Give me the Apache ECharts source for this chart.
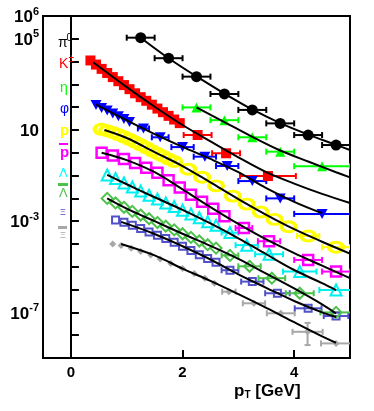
<!DOCTYPE html>
<html><head><meta charset="utf-8">
<script src="https://cdn.jsdelivr.net/npm/echarts@6/dist/echarts.min.js"></script>
<style>html,body{margin:0;padding:0;background:#fff}#c{width:374px;height:411px}</style>
</head><body><div id="c"></div><script>
// ---- data (pT in GeV, yields) ----
const pi0_pt   = [1.25, 1.75, 2.25, 2.75, 3.25, 3.75, 4.25, 4.75];
const pi0_val  = [1.12e5, 1.41e4, 2.19e3, 380, 76, 19.5, 6.0, 2.19];
const pi0_xerr = [0.25, 0.25, 0.25, 0.25, 0.25, 0.25, 0.25, 0.25];
const pi0_fit_pt  = [1.25, 1.75, 2.25, 2.75, 3.25, 3.75, 4.25, 4.75, 5.0];
const pi0_fit_val = [1.12e5, 1.41e4, 2.24e3, 398, 79.4, 20, 6.3, 2.24, 1.32];

const k_pt   = [0.35,0.45,0.55,0.65,0.75,0.85,0.95,1.05,1.15,1.25,1.35,1.45,1.55,1.65,1.75,1.85,1.95, 2.27, 2.78, 3.53];
const k_val  = [1.12e4,7.41e3,4.79e3,3.16e3,2.09e3,1.38e3,933,617,407,275,191,129,87.1,60.3,41.7,28.8,20.0, 6.03, 0.955, 0.0955];
const k_xerr = [0,0,0,0,0,0,0,0,0,0,0,0,0,0,0,0,0, 0.25, 0.25, 0.5];
const k_fit_pt  = [0.4, 1.0, 1.5, 2.0, 2.5, 3.0, 3.5, 4.0, 4.5, 5.0];
const k_fit_val = [9.33e3, 759, 105, 16.6, 3.16, 0.631, 0.141, 0.0447, 0.0158, 0.0063];

const eta_pt   = [2.25, 2.75, 3.25, 3.75, 4.5];
const eta_val  = [98, 27, 4.8, 1.12, 0.26];
const eta_xerr = [0.25, 0.25, 0.25, 0.25, 0.5];
const eta_fit_pt  = [2.25, 2.75, 3.25, 3.75, 4.25, 4.75, 5.0];
const eta_fit_val = [97.7, 22.4, 5.01, 1.26, 0.417, 0.141, 0.0832];

const phi_pt   = [0.45,0.55,0.65,0.75,0.85,0.95,1.05, 1.3, 1.6, 2.0, 2.4, 2.8, 3.25, 3.75, 4.5];
const phi_val  = [126,93.3,70.8,52.5,39.8,30.2,22.4, 11.7, 4.79, 1.78, 0.676, 0.263, 0.0575, 0.01, 0.00209];
const phi_xerr = [0,0,0,0,0,0,0, 0.1, 0.15, 0.2, 0.2, 0.2, 0.25, 0.25, 0.5];
const phi_fit_pt  = [0.45, 1.0, 1.5, 2.0, 2.5, 3.0, 3.5, 4.0, 4.5];
const phi_fit_val = [132, 26.3, 6.61, 1.82, 0.537, 0.141, 0.0282, 0.00708, 0.00224];

const p_pt   = [0.55,0.65,0.75,0.85,0.95,1.05,1.15,1.25,1.35,1.45,1.55,1.65,1.75, 1.85,2.1,2.35,2.6,2.9,3.15,3.4,3.65,3.9,4.25,4.75];
const p_val  = [10.7,9.33,7.76,6.31,5.01,3.89,2.95,2.24,1.66,1.23,0.933,0.708,0.537, 0.417,0.191,0.0851,0.0355,0.0126,0.00562,0.00251,0.0012,5.75e-4,2.24e-4,7.24e-5];
const p_xerr = [0,0,0,0,0,0,0,0,0,0,0,0,0, 0,0,0,0,0,0,0,0,0,0.2,0.25];
const p_fit_pt  = [0.6, 1.0, 1.5, 2.0, 2.5, 3.0, 3.5, 4.0, 4.5, 5.0];
const p_fit_val = [10, 4.47, 1.07, 0.263, 0.0501, 0.00933, 0.00191, 4.47e-4, 1.26e-4, 3.8e-5];

const pbar_pt   = [0.55,0.75,0.95,1.15,1.35,1.55,1.75,1.95,2.15,2.35,2.55,2.75, 3.1, 3.55, 4.25, 4.75];
const pbar_val  = [1.0,0.759,0.537,0.355,0.219,0.132,0.0631,0.0302,0.0145,0.00708,0.00355,0.00166, 5.01e-4, 1.32e-4, 2.0e-5, 6.17e-6];
const pbar_xerr = [0,0,0,0,0,0,0,0,0,0,0,0, 0.15, 0.2, 0.25, 0.25];
const pbar_fit_pt  = [0.55, 1.0, 1.5, 2.0, 2.5, 3.0, 3.5, 4.0, 4.5, 5.0];
const pbar_fit_val = [1.0, 0.479, 0.141, 0.0251, 0.00417, 7.59e-4, 1.58e-4, 3.98e-5, 1.12e-5, 3.16e-6];

const lam_pt   = [0.65,0.8,0.95,1.1,1.25,1.4,1.55,1.7,1.85,2.0,2.15,2.3,2.45,2.6, 2.85, 3.15, 3.55, 4.1, 4.75];
const lam_val  = [0.107,0.0741,0.0479,0.0316,0.0209,0.0138,0.00933,0.00631,0.00437,0.00302,0.00209,0.00141,9.55e-4,6.61e-4, 3.16e-4, 8.91e-5, 3.55e-5, 6.17e-6, 9.55e-7];
const lam_xerr = [0,0,0,0,0,0,0,0,0,0,0,0,0,0, 0.15, 0.2, 0.25, 0.3, 0.3];
const lam_fit_pt  = [0.65, 1.0, 1.5, 2.0, 2.5, 3.0, 3.5, 4.0, 4.5, 4.75];
const lam_fit_val = [0.107, 0.0417, 0.0112, 0.00316, 7.94e-4, 1.78e-4, 3.55e-5, 7.24e-6, 1.91e-6, 9.55e-7];

const lbar_pt   = [0.65,0.8,0.95,1.1,1.25,1.4,1.55,1.7,1.85,2.0,2.15,2.3,2.45,2.6, 2.85, 3.2, 3.6, 4.1, 4.75];
const lbar_val  = [0.01,0.00631,0.00407,0.00269,0.00186,0.00129,8.71e-4,6.03e-4,4.17e-4,2.82e-4,1.95e-4,1.35e-4,9.33e-5,6.61e-5, 3.16e-5, 1.05e-5, 3.16e-6, 6.92e-7, 1.0e-7];
const lbar_xerr = [0,0,0,0,0,0,0,0,0,0,0,0,0,0, 0.15, 0.2, 0.24, 0.25, 0.28];
const lbar_fit_pt  = [0.65, 1.0, 1.5, 2.0, 2.5, 3.0, 3.5, 4.0, 4.5, 4.75];
const lbar_fit_val = [0.01, 0.00355, 0.001, 2.82e-4, 8.32e-5, 2.24e-5, 5.01e-6, 1.12e-6, 2.24e-7, 8.91e-8];

const xi_pt   = [0.8,0.95,1.1,1.25,1.4,1.55,1.7,1.85,2.0,2.15,2.3,2.45,2.6, 2.85, 3.25, 3.7, 4.25, 4.75];
const xi_val  = [1.12e-3,8.91e-4,6.61e-4,4.79e-4,3.39e-4,2.45e-4,1.74e-4,1.2e-4,7.94e-5,5.25e-5,3.39e-5,2.34e-5,1.58e-5, 7.08e-6, 2.24e-6, 6.92e-7, 1.51e-7, 6.92e-8];
const xi_xerr = [0,0,0,0,0,0,0,0,0,0,0,0,0, 0.15, 0.2, 0.22, 0.24, 0.22];
const xi_fit_pt  = [0.9, 1.5, 2.0, 2.5, 3.0, 3.5, 4.0, 4.5, 4.75];
const xi_fit_val = [9.33e-4, 2.75e-4, 7.94e-5, 2.09e-5, 4.68e-6, 1.2e-6, 3.16e-7, 1.0e-7, 6.31e-8];

const xibar_pt   = [0.75,0.9,1.08,1.25,1.43,1.6,1.79,2.0,2.21,2.4,2.57, 2.83, 3.28, 3.76, 4.24, 4.75];
const xibar_val  = [1e-4,8.51e-5,6.46e-5,4.68e-5,3.31e-5,2.19e-5,1.41e-5,8.51e-6,5.13e-6,3.16e-6,1.91e-6, 8.13e-7, 2.51e-7, 9.12e-8, 1.41e-8, 4.37e-9];
const xibar_xerr = [0,0,0,0,0,0,0,0,0,0,0, 0.12, 0.2, 0.25, 0.27, 0.27];
const xibar_ylo  = [0,0,0,0,0,0,0,0,0,0,0, 0, 0, 0, 3.7e-9, 0];
const xibar_yhi  = [0,0,0,0,0,0,0,0,0,0,0, 0, 0, 0, 3.47e-8, 0];
const xibar_fit_pt  = [0.9, 1.5, 2.0, 2.5, 3.0, 3.5, 4.0, 4.5, 4.75];
const xibar_fit_val = [1e-4, 3.16e-5, 8.32e-6, 2.4e-6, 6.31e-7, 1.58e-7, 3.72e-8, 8.91e-9, 4.68e-9];

const yTickVals  = [1e-9,1e-8,1e-7,1e-6,1e-5,1e-4,1e-3,1e-2,1e-1,1,10,1e2,1e3,1e4,1e5,1e6];
const yLabelVals = [1e-7, 1e-3, 10, 1e5, 1e6];
const xLabelVals = [0, 2, 4];

// ---- build ----
const FONT = 'Liberation Sans, Arial, Helvetica, sans-serif';
function errRender(color){
  return function(params, api){
    const x = api.value(0), y = api.value(1), e = api.value(2), lo = api.value(3), hi = api.value(4);
    const st = {stroke: color, lineWidth: 2};
    const ch = [];
    if (e > 0) {
      const a = api.coord([x - e, y]), b = api.coord([x + e, y]);
      ch.push({type:'line', shape:{x1:a[0], y1:a[1], x2:b[0], y2:b[1]}, style: st});
      ch.push({type:'line', shape:{x1:a[0], y1:a[1]-3, x2:a[0], y2:a[1]+3}, style: st});
      ch.push({type:'line', shape:{x1:b[0], y1:b[1]-3, x2:b[0], y2:b[1]+3}, style: st});
    }
    if (lo > 0 && hi > 0) {
      const a = api.coord([x, lo]), b = api.coord([x, hi]);
      ch.push({type:'line', shape:{x1:a[0], y1:a[1], x2:b[0], y2:b[1]}, style: st});
      ch.push({type:'line', shape:{x1:a[0]-3, y1:a[1], x2:a[0]+3, y2:a[1]}, style: st});
      ch.push({type:'line', shape:{x1:b[0]-3, y1:b[1], x2:b[0]+3, y2:b[1]}, style: st});
    }
    return {type:'group', children: ch};
  };
}
const series = [];
function species(pt, val, xerr, fpt, fval, color, sym, size, hollow, bw, ylo, yhi){
  const ed = [];
  pt.forEach((x, i) => {
    const l = ylo ? ylo[i] : 0, h = yhi ? yhi[i] : 0;
    if (xerr[i] > 0 || l > 0) ed.push([x, val[i], xerr[i], l, h]);
  });
  series.push({type:'custom', renderItem: errRender(color), data: ed, z: 2, silent: true, clip: true,
               encode: {x: 0, y: 1}});
  series.push({type:'scatter', data: pt.map((x, i) => [x, val[i]]), symbol: sym, symbolSize: size, z: 3,
    itemStyle: hollow ? {color: 'rgba(255,255,255,0)', borderColor: color, borderWidth: bw, opacity: 1}
                      : {color: color, opacity: 1}, silent: true});
  series.push({type:'line', data: fpt.map((x, i) => [x, fval[i]]), smooth: 0.35, showSymbol: false,
    lineStyle: {color: '#000', width: 2}, z: 5, silent: true});
}
species(xibar_pt, xibar_val, xibar_xerr, xibar_fit_pt, xibar_fit_val, '#a8a8a8', 'diamond', 7, false, 0, xibar_ylo, xibar_yhi);
species(xi_pt, xi_val, xi_xerr, xi_fit_pt, xi_fit_val, '#5050c8', 'rect', 7, true, 2);
species(lbar_pt, lbar_val, lbar_xerr, lbar_fit_pt, lbar_fit_val, '#4cc24c', 'diamond', 11, true, 2);
species(lam_pt, lam_val, lam_xerr, lam_fit_pt, lam_fit_val, '#00f0f0', 'triangle', 11, true, 2);
species(pbar_pt, pbar_val, pbar_xerr, pbar_fit_pt, pbar_fit_val, '#ff00ff', 'rect', 10, true, 2.5);
species(p_pt, p_val, p_xerr, p_fit_pt, p_fit_val, '#ffff00', 'circle', [14, 10], true, 3.5);
species(phi_pt, phi_val, phi_xerr, phi_fit_pt, phi_fit_val, '#0000ff', 'path://M0,0L10,0L5,9Z', [11, 10], false, 0);
species(eta_pt, eta_val, eta_xerr, eta_fit_pt, eta_fit_val, '#00ff00', 'triangle', 10, false, 0);
species(k_pt, k_val, k_xerr, k_fit_pt, k_fit_val, '#ff0000', 'rect', 10, false, 0);
species(pi0_pt, pi0_val, pi0_xerr, pi0_fit_pt, pi0_fit_val, '#000000', 'circle', 11, false, 0);

function legText(txt, x, y, color, size, extra){
  return {type:'text', x: x, y: y, z: 100, silent: true,
    style: {text: txt, fill: color, font: (extra || '') + ' ' + size + 'px ' + FONT, textVerticalAlign: 'top'}};
}
function bar(x, y, w, h, color){
  return {type:'rect', x: x, y: y, z: 100, silent: true, shape:{x: 0, y: 0, width: w, height: h}, style:{fill: color}};
}
const graphics = [
  legText('π', 58, 36, '#000', 14),
  legText('0', 66.5, 33, '#000', 10),
  legText('K', 59, 57, '#ff0000', 14),
  legText('±', 68.5, 54, '#ff0000', 10),
  legText('η', 60, 81, '#00ff00', 14),
  legText('φ', 60, 102, '#0000ff', 14),
  legText('p', 60, 123, '#ffff00', 15, 'bold'),
  legText('p', 60, 145, '#ff00ff', 15, 'bold'),
  bar(59, 143, 9, 2, '#ff00ff'),
  legText('Λ', 59, 167, '#00ffff', 13),
  bar(58, 183, 10, 3, '#4cc24c'),
  legText('Λ', 59, 187, '#4cc24c', 13),
  legText('Ξ', 60, 208, '#5050c8', 9),
  bar(58, 226, 9, 3, '#a8a8a8'),
  legText('Ξ', 60, 231, '#a8a8a8', 9),
  {type:'text', left: 234, top: 383, z: 100, silent: true, style: {rich: {
      b:{fontSize:17, fontWeight:'bold', fontFamily:FONT, fill:'#000', verticalAlign:'bottom', lineHeight: 20},
      s:{fontSize:10, fontWeight:'bold', fontFamily:FONT, fill:'#000', verticalAlign:'bottom', lineHeight: 14}},
      text: '{b|p}{s|T}{b| [GeV]}'}}
];

const chart = echarts.init(document.getElementById('c'), null, {renderer: 'canvas'});
chart.setOption({
  animation: false,
  backgroundColor: '#fff',
  grid: {left: 43, right: 24, top: 16, bottom: 53, show: true, borderColor: '#000', borderWidth: 2, backgroundColor: 'transparent'},
  xAxis: {type: 'value', min: -0.5, max: 5,
    axisLine: {lineStyle: {color: '#000', width: 2}},
    axisTick: {inside: true, length: 8, lineStyle: {color: '#000', width: 2}, customValues: xLabelVals},
    axisLabel: {customValues: xLabelVals, fontSize: 15, fontWeight: 'bold', fontFamily: FONT, color: '#000', margin: 7},
    splitLine: {show: false}},
  yAxis: {type: 'log', logBase: 10, min: 1e-9, max: 1e6,
    axisLine: {lineStyle: {color: '#000', width: 2}},
    axisTick: {inside: true, length: 8, lineStyle: {color: '#000', width: 2}, customValues: yTickVals},
    minorTick: {show: false},
    splitLine: {show: false},
    axisLabel: {margin: 4, customValues: yLabelVals,
      formatter: function(v){
        const e = Math.round(Math.log10(v));
        if (e === 1) return '{b|10}';
        return '{b|10}{s|' + e + '}';
      },
      rich: {b: {fontSize: 17, fontWeight: 'bold', fontFamily: FONT, color: '#000', lineHeight: 20, verticalAlign: 'bottom'},
             s: {fontSize: 11, fontWeight: 'bold', fontFamily: FONT, color: '#000', lineHeight: 20, verticalAlign: 'top'}}}},
  series: series,
  graphic: graphics
});
</script></body></html>
